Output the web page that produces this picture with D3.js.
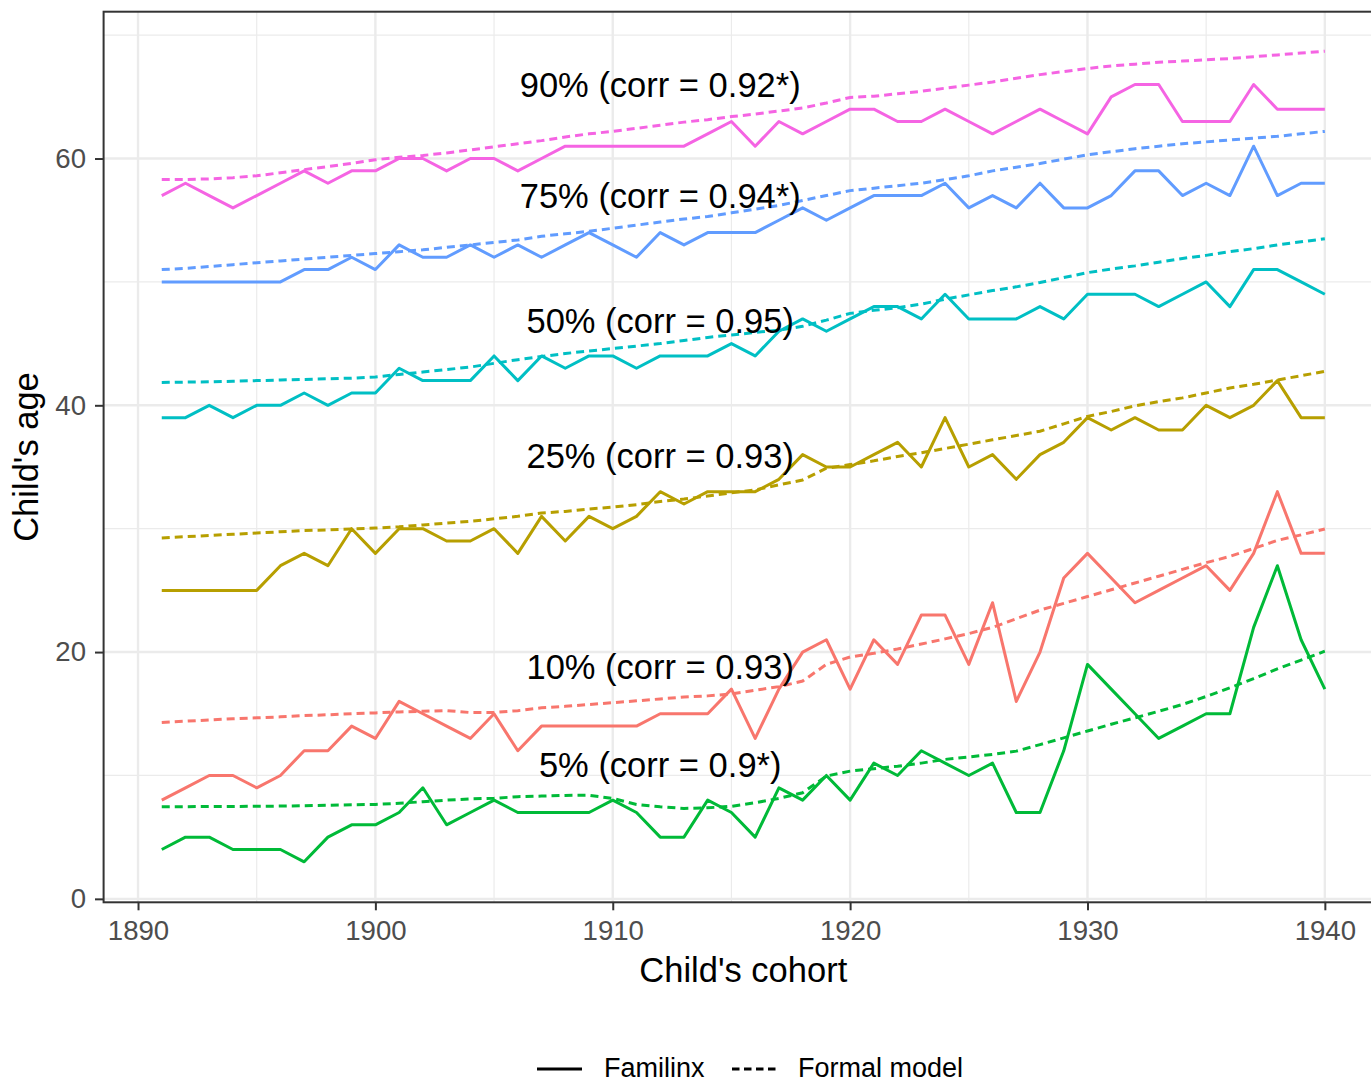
<!DOCTYPE html>
<html>
<head>
<meta charset="utf-8">
<title>Child's age by cohort</title>
<script src="https://d3js.org/d3.v7.min.js"></script>
<style>
  body { margin: 0; background: #fff; }
  svg text { font-family: "Liberation Sans", Arial, Helvetica, sans-serif; }
</style>
</head>
<body>
<div id="g"></div>
<script>
// cohorts 1891..1940
var years = [1891,1892,1893,1894,1895,1896,1897,1898,1899,1900,
             1901,1902,1903,1904,1905,1906,1907,1908,1909,1910,
             1911,1912,1913,1914,1915,1916,1917,1918,1919,1920,
             1921,1922,1923,1924,1925,1926,1927,1928,1929,1930,
             1931,1932,1933,1934,1935,1936,1937,1938,1939,1940];

// Familinx (observed) quantiles
var fam5  = [4,5,5,4,4,4,3,5,6,6, 7,9,6,7,8,7,7,7,7,8, 7,5,5,8,7,5,9,8,10,8, 11,10,12,11,10,11,7,7,12,19, 17,15,13,14,15,15,22,27,21,17];
var fam10 = [8,9,10,10,9,10,12,12,14,13, 16,15,14,13,15,12,14,14,14,14, 14,15,15,15,17,13,17,20,21,17, 21,19,23,23,19,24,16,20,26,28, 26,24,25,26,27,25,28,33,28,28];
var fam25 = [25,25,25,25,25,27,28,27,30,28, 30,30,29,29,30,28,31,29,31,30, 31,33,32,33,33,33,34,36,35,35, 36,37,35,39,35,36,34,36,37,39, 38,39,38,38,40,39,40,42,39,39];
var fam50 = [39,39,40,39,40,40,41,40,41,41, 43,42,42,42,44,42,44,43,44,44, 43,44,44,44,45,44,46,47,46,47, 48,48,47,49,47,47,47,48,47,49, 49,49,48,49,50,48,51,51,50,49];
var fam75 = [50,50,50,50,50,50,51,51,52,51, 53,52,52,53,52,53,52,53,54,53, 52,54,53,54,54,54,55,56,55,56, 57,57,57,58,56,57,56,58,56,56, 57,59,59,57,58,57,61,57,58,58];
var fam90 = [57,58,57,56,57,58,59,58,59,59, 60,60,59,60,60,59,60,61,61,61, 61,61,61,62,63,61,63,62,63,64, 64,63,63,64,63,62,63,64,63,62, 65,66,66,63,63,63,66,64,64,64];

// Formal model
var mod5  = [7.46,7.47,7.48,7.49,7.5,7.52,7.55,7.58,7.62,7.65, 7.75,7.87,8.0,8.1,8.15,8.28,8.33,8.38,8.4,8.14, 7.65,7.46,7.33,7.38,7.5,7.79,8.14,8.6,9.95,10.35, 10.55,10.75,11.0,11.3,11.5,11.7,11.97,12.5,13.05,13.6, 14.15,14.67,15.2,15.75,16.4,17.1,17.85,18.64,19.35,20.07];
var mod10 = [14.3,14.4,14.5,14.6,14.67,14.75,14.85,14.92,15.0,15.07, 15.15,15.2,15.26,15.1,15.1,15.25,15.48,15.6,15.75,15.9, 16.05,16.2,16.35,16.45,16.6,16.9,17.2,17.65,19.0,19.6, 19.9,20.25,20.65,21.07,21.5,22.0,22.7,23.4,23.95,24.5, 25.05,25.6,26.15,26.7,27.25,27.75,28.4,29.05,29.5,29.97];
var mod25 = [29.25,29.35,29.45,29.55,29.65,29.75,29.85,29.9,29.98,30.05, 30.15,30.3,30.45,30.6,30.8,31.0,31.27,31.4,31.6,31.75, 31.95,32.2,32.4,32.65,32.9,33.15,33.55,33.95,34.9,35.2, 35.5,35.85,36.15,36.5,36.85,37.2,37.55,37.9,38.5,39.1, 39.5,39.95,40.3,40.6,41.0,41.4,41.7,42.05,42.4,42.75];
var mod50 = [41.85,41.88,41.9,41.95,42.0,42.05,42.1,42.15,42.2,42.3, 42.5,42.7,42.9,43.1,43.4,43.7,43.95,44.2,44.4,44.6, 44.8,45.0,45.25,45.5,45.7,45.9,46.1,46.4,46.9,47.45, 47.7,47.9,48.2,48.6,48.95,49.3,49.6,49.95,50.35,50.75, 51.05,51.3,51.6,51.9,52.15,52.45,52.7,53.0,53.25,53.5];
var mod75 = [51.0,51.1,51.25,51.4,51.55,51.7,51.85,52.0,52.15,52.3, 52.45,52.6,52.8,53.0,53.2,53.4,53.7,53.9,54.1,54.35, 54.6,54.85,55.1,55.3,55.6,55.9,56.2,56.6,57.0,57.4, 57.6,57.8,58.0,58.3,58.6,59.0,59.3,59.6,59.95,60.3, 60.55,60.8,61.0,61.2,61.35,61.5,61.65,61.8,62.0,62.2];
var mod90 = [58.3,58.3,58.35,58.45,58.6,58.85,59.1,59.35,59.6,59.9, 60.1,60.25,60.45,60.7,60.95,61.2,61.45,61.75,62.0,62.2, 62.45,62.7,62.95,63.15,63.4,63.6,63.85,64.1,64.5,64.95, 65.05,65.25,65.45,65.7,65.95,66.2,66.5,66.8,67.05,67.3, 67.5,67.65,67.8,67.9,68.0,68.1,68.25,68.4,68.55,68.7];

var quantiles = ["10%", "25%", "5%", "50%", "75%", "90%"];
var famSeries = [fam10, fam25, fam5, fam50, fam75, fam90];
var modSeries = [mod10, mod25, mod5, mod50, mod75, mod90];

// labels drawn at cohort 1912
var labelText = ["10% (corr = 0.93)", "25% (corr = 0.93)", "5% (corr = 0.9*)",
                 "50% (corr = 0.95)", "75% (corr = 0.94*)", "90% (corr = 0.92*)"];
var labelX = 1912;
var labelY = [18.8, 35.9, 10.9, 46.9, 57.0, 66.0];

var xTicks = [1890, 1900, 1910, 1920, 1930, 1940];
var xMinor = [1895, 1905, 1915, 1925, 1935];
var yTicks = [0, 20, 40, 60];
var yMinor = [10, 30, 50, 70];

var W = 1371, H = 1083;
var panel = { left: 103.6, top: 11.7, right: 1383, bottom: 902.3 };

var color = d3.scaleOrdinal()
    .domain(quantiles)
    .range(["#F8766D", "#B79F00", "#00BA38", "#00BFC4", "#619CFF", "#F564E3"]);

var x = d3.scaleLinear().domain([1888.55, 1942.45]).range([panel.left, panel.right]);
var y = d3.scaleLinear().domain([-0.28, 71.9]).range([panel.bottom, panel.top]);

var svg = d3.select("#g").append("svg")
    .attr("width", W)
    .attr("height", H);

svg.append("defs").append("clipPath").attr("id", "clip")
  .append("rect")
    .attr("x", panel.left).attr("y", panel.top)
    .attr("width", panel.right - panel.left)
    .attr("height", panel.bottom - panel.top);

var plot = svg.append("g").attr("clip-path", "url(#clip)");

// grid
plot.selectAll(".gx-minor").data(xMinor).enter().append("line")
    .attr("x1", d => x(d)).attr("x2", d => x(d))
    .attr("y1", panel.top).attr("y2", panel.bottom)
    .attr("stroke", "#EBEBEB").attr("stroke-width", 1.2);
plot.selectAll(".gy-minor").data(yMinor).enter().append("line")
    .attr("y1", d => y(d)).attr("y2", d => y(d))
    .attr("x1", panel.left).attr("x2", panel.right)
    .attr("stroke", "#EBEBEB").attr("stroke-width", 1.2);
plot.selectAll(".gx").data(xTicks).enter().append("line")
    .attr("x1", d => x(d)).attr("x2", d => x(d))
    .attr("y1", panel.top).attr("y2", panel.bottom)
    .attr("stroke", "#EBEBEB").attr("stroke-width", 2.4);
plot.selectAll(".gy").data(yTicks).enter().append("line")
    .attr("y1", d => y(d)).attr("y2", d => y(d))
    .attr("x1", panel.left).attr("x2", panel.right)
    .attr("stroke", "#EBEBEB").attr("stroke-width", 2.4);

var line = d3.line()
    .x(function (d, i) { return x(years[i]); })
    .y(function (d) { return y(d); });

// formal model (dashed) then Familinx (solid)
quantiles.forEach(function (q, k) {
  plot.append("path")
      .attr("d", line(modSeries[k]))
      .attr("fill", "none")
      .attr("stroke", color(q))
      .attr("stroke-width", 3)
      .attr("stroke-dasharray", "8,5");
  plot.append("path")
      .attr("d", line(famSeries[k]))
      .attr("fill", "none")
      .attr("stroke", color(q))
      .attr("stroke-width", 3)
      .attr("stroke-linejoin", "round");
});

// labels
plot.selectAll(".lab").data(labelText).enter().append("text")
    .attr("x", x(labelX))
    .attr("y", function (d, i) { return y(labelY[i]); })
    .attr("dy", "0.36em")
    .attr("text-anchor", "middle")
    .attr("font-size", "34.5px")
    .attr("fill", "#000")
    .text(d => d);

// panel border
svg.append("rect")
    .attr("x", panel.left).attr("y", panel.top)
    .attr("width", panel.right - panel.left)
    .attr("height", panel.bottom - panel.top)
    .attr("fill", "none")
    .attr("stroke", "#333333")
    .attr("stroke-width", 2);

// axes
var xAxis = svg.append("g")
    .attr("transform", "translate(0," + panel.bottom + ")")
    .call(d3.axisBottom(x).tickValues(xTicks).tickFormat(d3.format("d")).tickSize(8).tickPadding(10));
var yAxis = svg.append("g")
    .attr("transform", "translate(" + panel.left + ",0)")
    .call(d3.axisLeft(y).tickValues(yTicks).tickSize(8.6).tickPadding(9));

[xAxis, yAxis].forEach(function (a) {
  a.select(".domain").remove();
  a.selectAll(".tick line").attr("stroke", "#333333").attr("stroke-width", 2);
  a.selectAll(".tick text")
      .attr("fill", "#4D4D4D")
      .style("font-size", "27.6px")
      .style("font-family", "'Liberation Sans', Arial, sans-serif");
});

// axis titles
svg.append("text")
    .attr("x", (panel.left + panel.right) / 2)
    .attr("y", 982)
    .attr("text-anchor", "middle")
    .attr("font-size", "34.5px")
    .text("Child's cohort");

svg.append("text")
    .attr("transform", "translate(38," + ((panel.top + panel.bottom) / 2) + ") rotate(-90)")
    .attr("text-anchor", "middle")
    .attr("font-size", "34.5px")
    .text("Child's age");

// legend
var legend = svg.append("g");
legend.append("line")
    .attr("x1", 537).attr("x2", 582).attr("y1", 1069).attr("y2", 1069)
    .attr("stroke", "#000").attr("stroke-width", 2.8);
legend.append("text")
    .attr("x", 604).attr("y", 1077)
    .attr("font-size", "27px")
    .text("Familinx");
legend.append("line")
    .attr("x1", 732).attr("x2", 777).attr("y1", 1069).attr("y2", 1069)
    .attr("stroke", "#000").attr("stroke-width", 2.8)
    .attr("stroke-dasharray", "7.5,4.5");
legend.append("text")
    .attr("x", 798).attr("y", 1077)
    .attr("font-size", "27px")
    .text("Formal model");
</script>
</body>
</html>
